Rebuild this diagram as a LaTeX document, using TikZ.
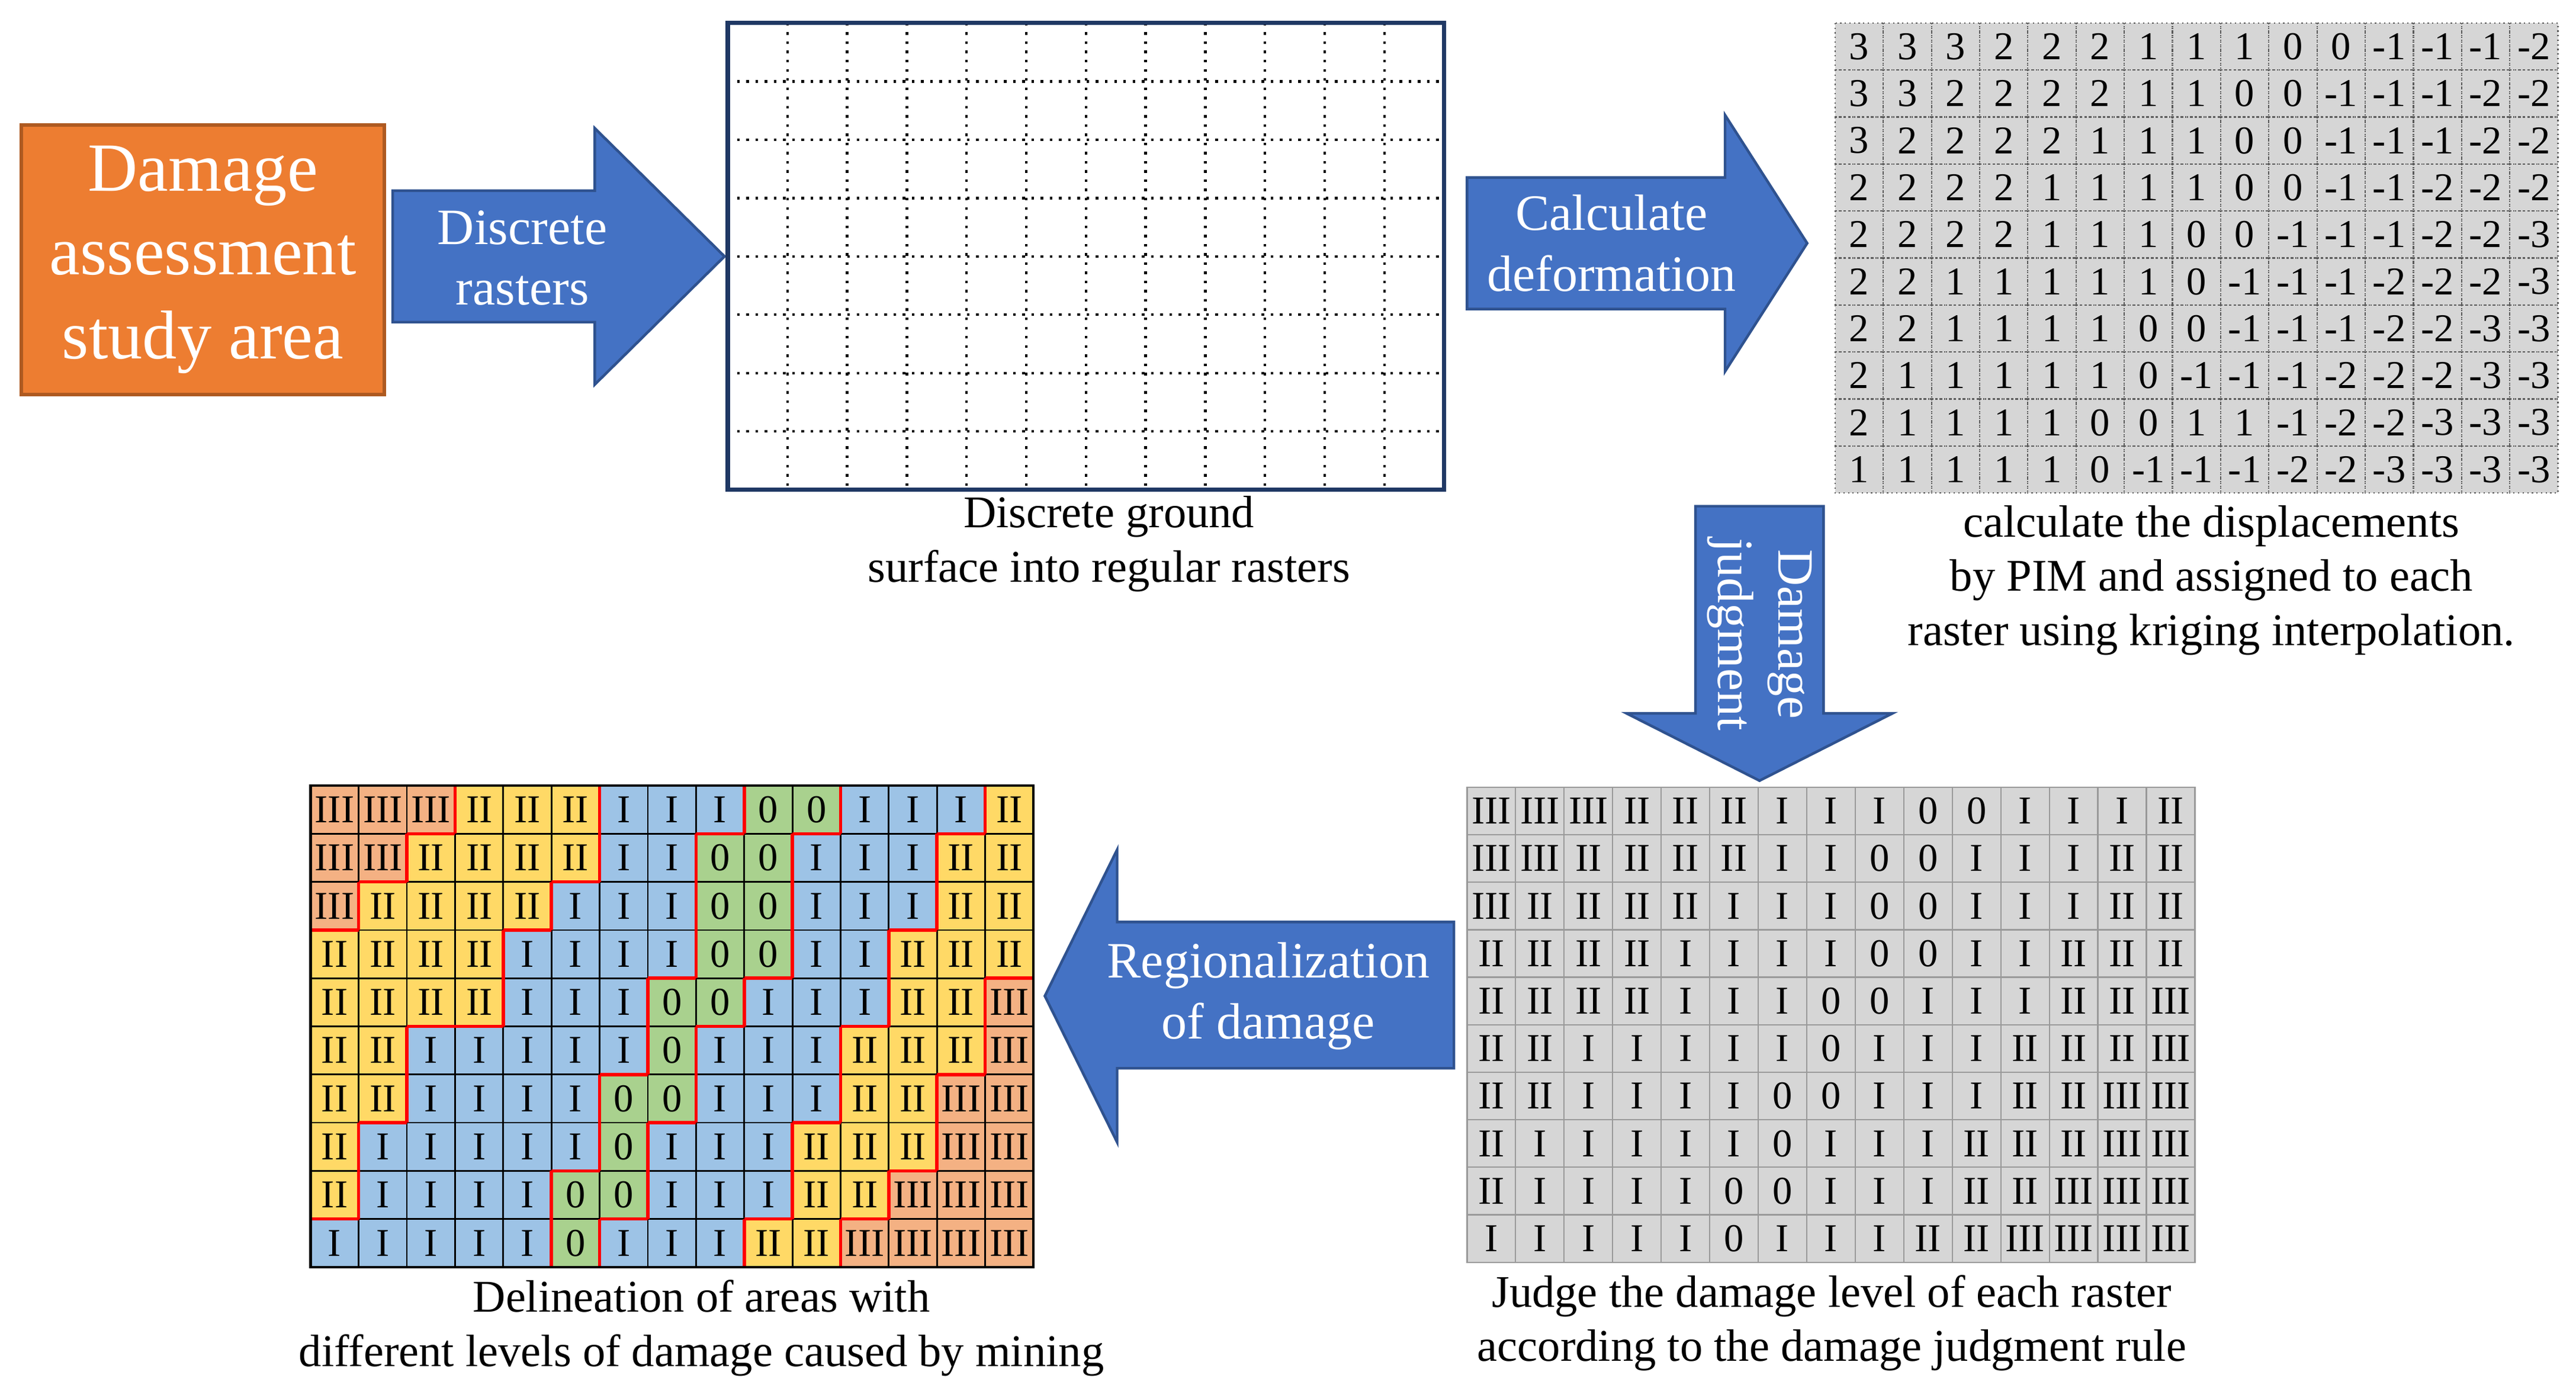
\documentclass[tikz,border=0pt]{standalone}
\usepackage{fontspec}
\setmainfont{Liberation Serif}
\begin{document}
\begin{tikzpicture}[x=0.5pt,y=-0.5pt,
  blk/.style={fill=arrowblue,draw=arrowedge,line width=0.8pt},
  atext/.style={text=white,align=center,font=\fontsize{15.5}{18.5}\selectfont},
  captxt/.style={align=center,font=\fontsize{13.8}{16.5}\selectfont},
  ]
\definecolor{arrowblue}{HTML}{4472C4}
\definecolor{arrowedge}{HTML}{2F528F}
\definecolor{orng}{HTML}{ED7D31}
\definecolor{orngedge}{HTML}{AE5A21}
\definecolor{cIII}{HTML}{F4B183}
\definecolor{cII}{HTML}{FFD966}
\definecolor{cI}{HTML}{9DC3E6}
\definecolor{cO}{HTML}{A9D18E}
\definecolor{gcell}{HTML}{D6D6D6}
\definecolor{navy}{HTML}{1F3864}
\useasboundingbox (0,0) rectangle (1568,846);
\fill[white] (0,0) rectangle (1568,846);
% orange box
\node[draw=orngedge,fill=orng,line width=1pt,minimum width=221*0.5pt,minimum height=164*0.5pt,
  text=white,align=center,font=\fontsize{21}{25.5}\selectfont] (area) at (123.5,158) {Damage\\assessment\\study area};
% arrow 1
\draw[blk] (239,116)--(362,116)--(362,78)--(441,156)--(362,234)--(362,196)--(239,196)--cycle;
\node[atext] (a1) at (318,157) {Discrete\\rasters};
% empty grid
\foreach \i in {1,...,11} \draw[dotted,thick] (443+\i*436/12,14)--(443+\i*436/12,298);
\foreach \j in {1,...,7} \draw[dotted,thick] (443,14+\j*284/8)--(879,14+\j*284/8);
\draw[navy,line width=1.3pt] (443,14) rectangle (879,298);
\node[captxt] (c1) at (675,331) {Discrete ground\\surface into regular rasters};
% arrow 2
\draw[blk] (893,108)--(1050,108)--(1050,70)--(1100,148)--(1050,226)--(1050,188)--(893,188)--cycle;
\node[atext] (a2) at (981,148) {Calculate\\deformation};
% number grid
\def\N{{{3,3,3,2,2,2,1,1,1,0,0,-1,-1,-1,-2},
{3,3,2,2,2,2,1,1,0,0,-1,-1,-1,-2,-2},
{3,2,2,2,2,1,1,1,0,0,-1,-1,-1,-2,-2},
{2,2,2,2,1,1,1,1,0,0,-1,-1,-2,-2,-2},
{2,2,2,2,1,1,1,0,0,-1,-1,-1,-2,-2,-3},
{2,2,1,1,1,1,1,0,-1,-1,-1,-2,-2,-2,-3},
{2,2,1,1,1,1,0,0,-1,-1,-1,-2,-2,-3,-3},
{2,1,1,1,1,1,0,-1,-1,-1,-2,-2,-2,-3,-3},
{2,1,1,1,1,0,0,1,1,-1,-2,-2,-3,-3,-3},
{1,1,1,1,1,0,-1,-1,-1,-2,-2,-3,-3,-3,-3}}}
\fill[gcell] (1117,14) rectangle (1557,300);
\foreach \r in {0,...,9} \foreach \c in {0,...,14} {
  \pgfmathtruncatemacro\v{\N[\r][\c]}
  \draw[densely dotted,gray!70!black] (1117+\c*440/15,14+\r*28.6) rectangle ++(440/15,28.6);
  \node[font=\fontsize{12}{13}\selectfont,inner sep=0pt] at (1117+\c*440/15+14.67,14+\r*28.6+14.3) {\v};
}
\node[captxt] (c2) at (1346,353) {calculate the displacements\\by PIM and assigned to each\\raster using kriging interpolation.};
% arrow 3 (down)
\draw[blk] (1032,308)--(1110,308)--(1110,434)--(1152,434)--(1071,475)--(990,434)--(1032,434)--cycle;
\node[atext,rotate=-90] (a3) at (1071,386) {Damage\\judgment};
% level matrix
\def\L{{{3,3,3,2,2,2,1,1,1,0,0,1,1,1,2},
{3,3,2,2,2,2,1,1,0,0,1,1,1,2,2},
{3,2,2,2,2,1,1,1,0,0,1,1,1,2,2},
{2,2,2,2,1,1,1,1,0,0,1,1,2,2,2},
{2,2,2,2,1,1,1,0,0,1,1,1,2,2,3},
{2,2,1,1,1,1,1,0,1,1,1,2,2,2,3},
{2,2,1,1,1,1,0,0,1,1,1,2,2,3,3},
{2,1,1,1,1,1,0,1,1,1,2,2,2,3,3},
{2,1,1,1,1,0,0,1,1,1,2,2,3,3,3},
{1,1,1,1,1,0,1,1,1,2,2,3,3,3,3}}}
\def\lab#1{\ifcase#1 0\or I\or II\or III\fi}
% judgment grid
\foreach \r in {0,...,9} \foreach \c in {0,...,14} {
  \pgfmathtruncatemacro\v{\L[\r][\c]}
  \draw[gray!80,fill=gcell] (893+\c*443/15,479+\r*28.9) rectangle ++(443/15,28.9);
  \node[font=\fontsize{12}{13}\selectfont,inner sep=0pt] at (893+\c*443/15+14.77,479+\r*28.9+14.45) {\lab{\v}};
}
\node[captxt] (c3) at (1115,805) {Judge the damage level of each raster\\according to the damage judgment rule};
% arrow 4 (left)
\draw[blk] (885,561)--(680,561)--(680,517)--(636,606)--(680,695)--(680,650)--(885,650)--cycle;
\node[atext] (a4) at (772,606) {Regionalization\\of damage};
% coloured grid
\foreach \r in {0,...,9} \foreach \c in {0,...,14} {
  \pgfmathtruncatemacro\v{\L[\r][\c]}
  \ifcase\v \def\cc{cO}\or \def\cc{cI}\or \def\cc{cII}\or \def\cc{cIII}\fi
  \draw[black,fill=\cc,line width=0.5pt] (189+\c*440/15,478+\r*29.3) rectangle ++(440/15,29.3);
  \node[font=\fontsize{12}{13}\selectfont,inner sep=0pt] at (189+\c*440/15+14.67,478+\r*29.3+14.65) {\lab{\v}};
}
\foreach \r in {0,...,9} \foreach \c in {0,...,14} {
  \pgfmathtruncatemacro\v{\L[\r][\c]}
  \ifnum\c<14
    \pgfmathtruncatemacro\w{\L[\r][\c+1]}
    \ifnum\v=\w\else \draw[red,line width=1pt] (189+\c*440/15+440/15,478+\r*29.3)--++(0,29.3);\fi
  \fi
  \ifnum\r<9
    \pgfmathtruncatemacro\w{\L[\r+1][\c]}
    \ifnum\v=\w\else \draw[red,line width=1pt] (189+\c*440/15,478+\r*29.3+29.3)--++(440/15,0);\fi
  \fi
}
\draw[black,line width=0.8pt] (189,478) rectangle (629,771);
\node[captxt] (c4) at (427,808) {Delineation of areas with\\different levels of damage caused by mining};
\end{tikzpicture}
\end{document}
